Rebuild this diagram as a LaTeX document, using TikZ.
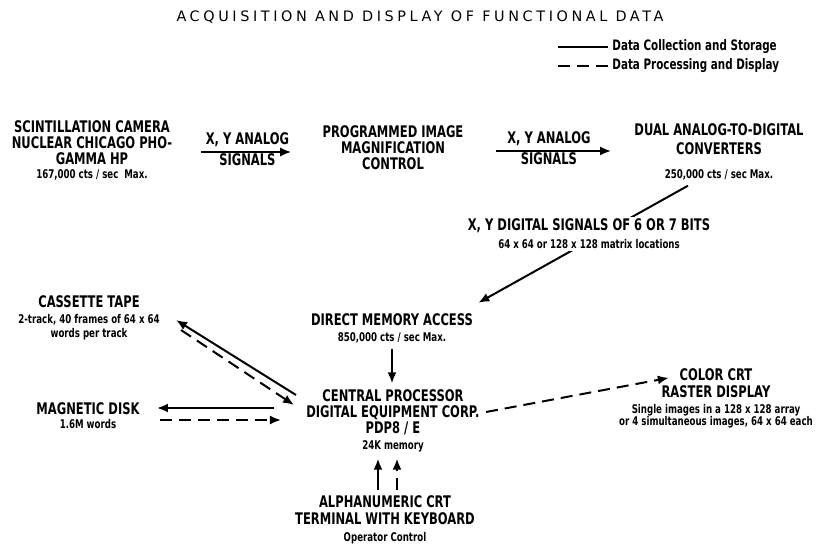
\documentclass[tikz,border=0pt]{standalone}
\usepackage{fontspec}
\setmainfont{DejaVu Sans}[FakeStretch=0.72]
\newfontfamily\titlefont{DejaVu Sans}[LetterSpace=25]
\usetikzlibrary{arrows.meta}

\newcommand{\sub}[1]{{\fontsize{6}{7}\selectfont #1}}

\tikzset{
  blk/.style={align=center, inner sep=0pt, font=\bfseries\fontsize{8}{8}\selectfont},
  lbl/.style={inner sep=0pt, font=\bfseries\fontsize{8}{8}\selectfont},
  flow/.style={line width=1pt, -{Latex[length=5.5pt,width=4.5pt]}},
  dflow/.style={flow, dash pattern=on 6pt off 3.5pt},
}

\begin{document}
\begin{tikzpicture}[x=0.5pt, y=-0.5pt]
	\useasboundingbox (0,0) rectangle (825,545);
	% title and legend
	\node[font=\titlefont\fontsize{7.2}{8}\selectfont] (title) at (420,17) {ACQUISITION AND DISPLAY OF FUNCTIONAL DATA};
	\node[anchor=west, inner sep=0pt, font=\bfseries\fontsize{7.2}{8}\selectfont] (leg1) at (612,47) {Data Collection and Storage};
	\node[anchor=west, inner sep=0pt, font=\bfseries\fontsize{7.2}{8}\selectfont] (leg2) at (612,66) {Data Processing and Display};
	\coordinate (leg1s) at (558,47);
	\coordinate (leg2s) at (558,66);
	\draw[line width=1pt] (leg1s) -- ([xshift=-2pt]leg1.west);
	\draw[line width=1pt, dash pattern=on 6pt off 3.5pt] (leg2s) -- ([xshift=-2pt]leg2.west);

	% blocks
	\node[blk] (camera) at (92,150) {SCINTILLATION CAMERA\\NUCLEAR CHICAGO PHO-\\GAMMA HP\\[-1pt]\sub{167,000 cts / sec\ \ Max.}};
	\node[blk] (magnif) at (393,148) {PROGRAMMED IMAGE\\MAGNIFICATION\\CONTROL};
	\node[blk] (adc) at (719,152) {DUAL ANALOG-TO-DIGITAL\\[1.5pt]CONVERTERS\\[4pt]\sub{250,000 cts / sec Max.}};
	\node[blk] (dma) at (392,328) {DIRECT MEMORY ACCESS\\\sub{850,000 cts / sec Max.}};
	\node[blk] (cpu) at (393,421) {CENTRAL PROCESSOR\\DIGITAL EQUIPMENT CORP.\\PDP8 / E\\\sub{24K memory}};
	\node[blk] (cassette) at (89,318) {CASSETTE TAPE\\\sub{2-track, 40 frames of 64 x 64}\\[-1pt]\sub{words per track}};
	\node[blk] (disk) at (88,416) {MAGNETIC DISK\\[-1pt]\sub{1.6M words}};
	\node[blk] (display) at (716,398) {COLOR CRT\\[0.5pt]RASTER DISPLAY\\\sub{Single images in a 128 x 128 array}\\[-2pt]\sub{or 4 simultaneous images, 64 x 64 each}};
	\node[blk] (terminal) at (385,520) {ALPHANUMERIC CRT\\[0.5pt]TERMINAL WITH KEYBOARD\\[0.5pt]\sub{Operator Control}};

	% collection path
	\draw[flow, shorten <=14pt, shorten >=15.5pt] ([yshift=-1pt]camera.east) -- ([yshift=-1pt]camera.east -| magnif.west)
		node[midway, above=2pt, lbl] {X, Y ANALOG} node[midway, below=0.5pt, lbl] {SIGNALS};
	\draw[flow, shorten <=16pt, shorten >=11.5pt] ([yshift=-1.5pt]magnif.east) -- ([yshift=-1.5pt]magnif.east -| adc.west)
		node[midway, above=2pt, lbl] {X, Y ANALOG} node[midway, below=0.5pt, lbl] {SIGNALS};
	\draw[flow] ([shift={(-31,5)}]adc.south) -- ([shift={(5,-10)}]dma.north east);
	\node[blk, fill=white, inner sep=1pt] (digital) at (589,234) {X, Y DIGITAL SIGNALS OF 6 OR 7 BITS\\[1pt]\sub{64 x 64 or 128 x 128 matrix locations}};
	\draw[flow, shorten <=3pt, shorten >=3pt] (dma.south) -- (dma.south |- cpu.north);

	% storage and display
	\draw[flow] ([shift={(-10,-26)}]cpu.west) -- ([shift={(16,2)}]cassette.east);
	\draw[dflow] ([shift={(21,12)}]cassette.east) -- ([shift={(-12,-16)}]cpu.west);
	\draw[flow] ([shift={(-32,-13)}]cpu.west) -- ([shift={(17,-8)}]disk.east);
	\draw[dflow] ([shift={(20,4)}]disk.east) -- ([shift={(-25,-1)}]cpu.west);
	\draw[dflow] ([shift={(6,-9)}]cpu.east) -- ([shift={(50,10)}]display.north west);

	% operator control
	\draw[flow, shorten <=2.5pt, shorten >=3pt] ([xshift=-3.5pt]terminal.north) -- ([xshift=-3.5pt]terminal.north |- cpu.south);
	\draw[dflow, shorten <=2.5pt, shorten >=3pt] ([xshift=6pt]terminal.north) -- ([xshift=6pt]terminal.north |- cpu.south);
\end{tikzpicture}
\end{document}
